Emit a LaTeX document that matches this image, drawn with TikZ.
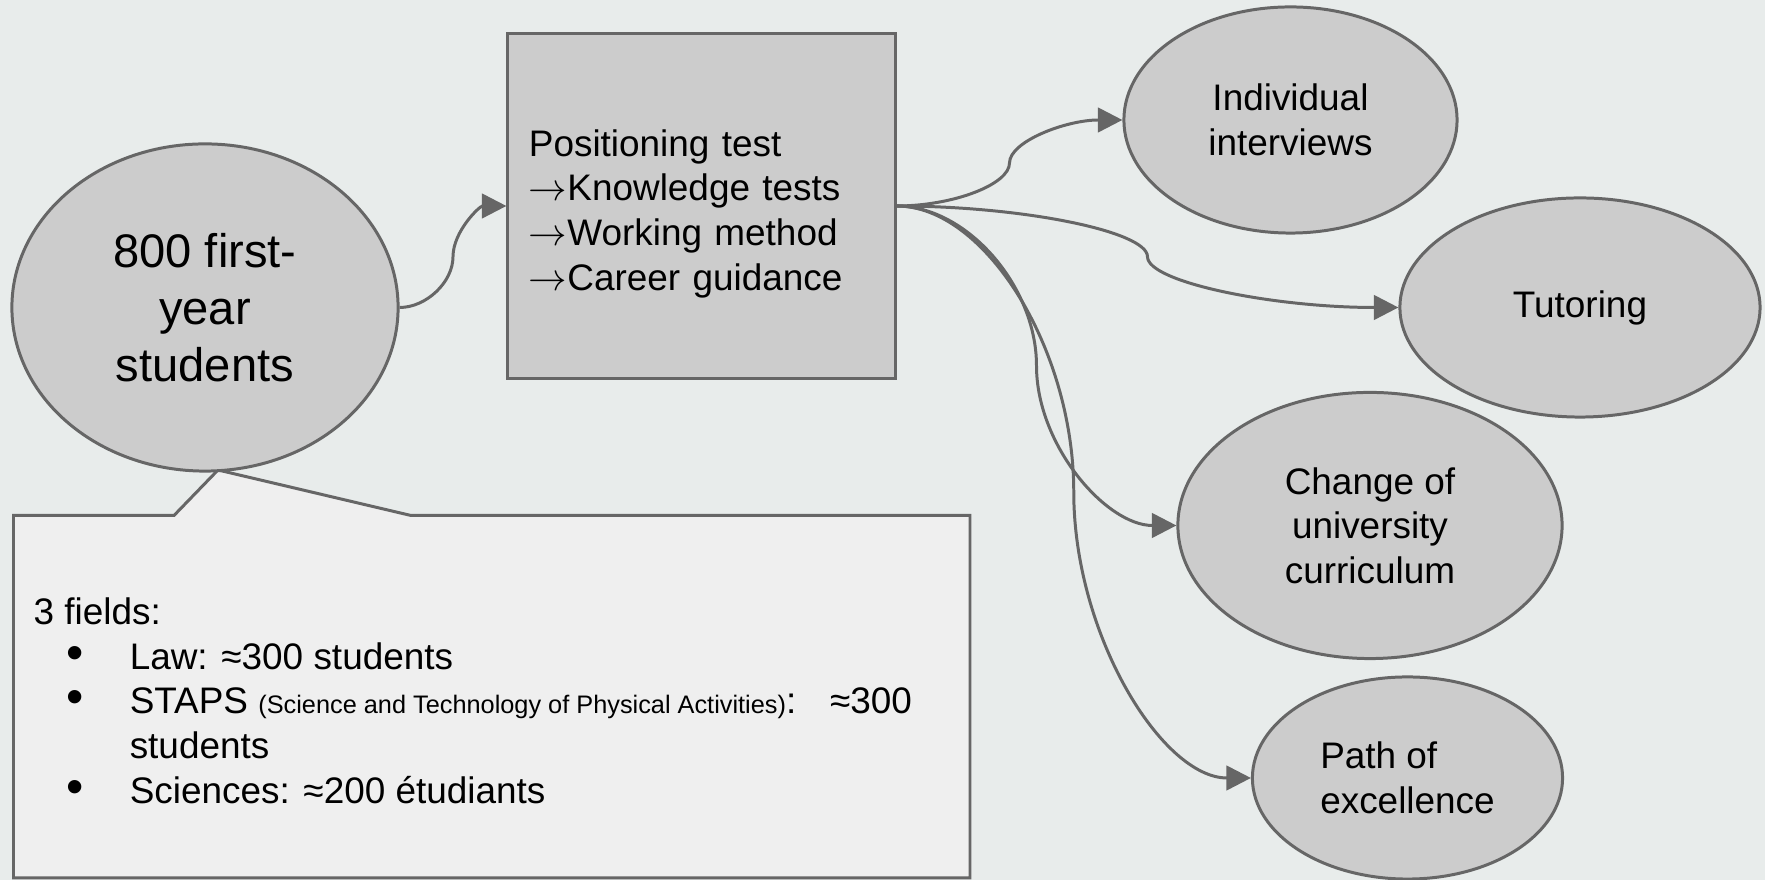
\documentclass[tikz,border=0pt]{standalone}
\usepackage{fontspec}
\setmainfont{Liberation Sans}
\usetikzlibrary{shapes.geometric,arrows.meta,calc}

\definecolor{paper}{HTML}{E8ECEB}
\definecolor{bubblefill}{HTML}{CCCCCC}
\definecolor{edgegray}{HTML}{666666}
\definecolor{notefill}{HTML}{EFEFEF}

\newcommand{\normtext}{\fontsize{10.5}{12.7}\selectfont}
\newcommand{\bigtext}{\fontsize{13.4}{16.2}\selectfont}
\newcommand{\itm}{\makebox[0.96cm][l]{\hspace{0.33cm}{\fontsize{14}{12.7}\selectfont•}}}
\newcommand{\arr}{\(\rightarrow\)}

\tikzset{
  bubble/.style={ellipse, draw=edgegray, line width=0.85pt, fill=bubblefill,
    inner sep=0pt, align=center, font=\normtext},
  testbox/.style={rectangle, draw=edgegray, line width=0.85pt, fill=bubblefill,
    minimum width=3.87cm, minimum height=3.44cm, text width=3.45cm,
    inner xsep=0.21cm, align=left, font=\normtext},
  link/.style={->, draw=edgegray, line width=0.85pt},
  elbow/.style={to path={let \p1=(\tikztostart), \p2=(\tikztotarget) in
    .. controls ({0.75*\x1+0.25*\x2},\y1) and ({0.5*\x1+0.5*\x2},{0.75*\y1+0.25*\y2})
    .. ({0.5*\x1+0.5*\x2},{0.5*\y1+0.5*\y2})
    .. controls ({0.5*\x1+0.5*\x2},{0.25*\y1+0.75*\y2}) and ({0.25*\x1+0.75*\x2},\y2)
    .. (\tikztotarget) \tikztonodes}}
}

\begin{document}
\begin{tikzpicture}[x=0.01cm, y=-0.01cm, >={Triangle[length=7pt,width=7pt]}]
    % Page
    \fill[paper] (0,0) rectangle (1765,880);
    \useasboundingbox (0,0) rectangle (1765,880);

    % Callout with the fields
    \draw[edgegray, line width=0.85pt, fill=notefill, line join=miter]
      (13.5,515.5) -- (174,515.5) -- (218,470) -- (411,515.5) -- (970,515.5)
      -- (970,878) -- (13.5,878) -- cycle;
    \node[anchor=north west, inner sep=0pt, align=left, font=\normtext] (fields) at (33,597)
      {3 fields:\\
       \itm Law: ≈300 students\\
       \itm STAPS {\fontsize{7.2}{8}\selectfont(Science and Technology of Physical Activities)}:\hspace{0.2cm} ≈300\\
       \hspace*{0.96cm}students\\
       \itm Sciences: ≈200 étudiants};

    % Students and test
    \node[bubble, minimum width=3.86cm, minimum height=3.27cm, font=\bigtext] (students) at (205,307.5) {800 first-\\year\\students};
    \node[testbox] (postest) at (701.5,206) {\rule{0pt}{12pt}Positioning test\\\arr Knowledge tests\\\arr Working method\\\arr Career guidance};

    % Outcomes
    \node[bubble, minimum width=3.33cm, minimum height=2.26cm] (interv) at (1290.5,120) {Individual\\interviews};
    \node[bubble, minimum width=3.6cm, minimum height=2.19cm] (tutor) at (1580,307.5) {Tutoring};
    \node[bubble, minimum width=3.84cm, minimum height=2.66cm] (change) at (1370,525.5) {Change of\\university\\curriculum};
    \node[bubble, minimum width=3.1cm, minimum height=2.02cm, align=left] (excel) at (1407.5,778) {Path of\\excellence};

    % Connectors
    \draw[link] (students.east) to[elbow] (postest.west);
    \draw[link] (postest.east) to[elbow] (interv.west);
    \draw[link] (postest.east) to[elbow] (tutor.west);
    \draw[link] (postest.east) to[elbow] (change.west);
    \draw[link] (postest.east) to[elbow] (excel.west);
\end{tikzpicture}
\end{document}
